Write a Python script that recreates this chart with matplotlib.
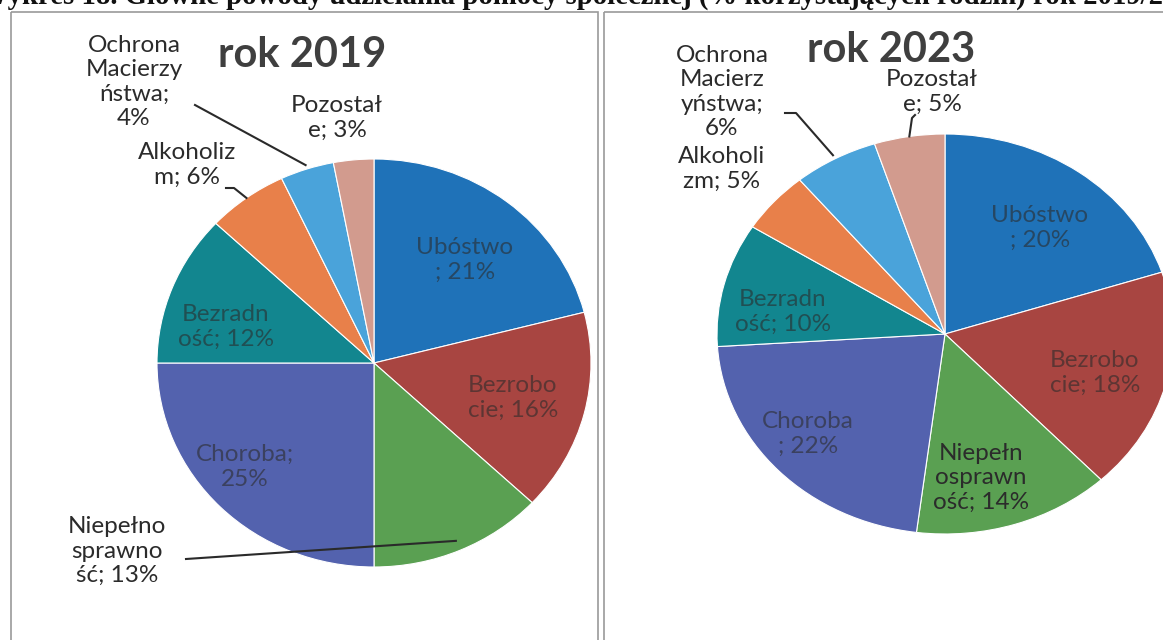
import numpy as np
import matplotlib
matplotlib.use("Agg")
import matplotlib.pyplot as plt
from matplotlib.patches import Rectangle

W, H = 1163, 640

# dane
kategorie = ["Ubóstwo", "Bezrobocie", "Niepełnosprawność", "Choroba",
             "Bezradność", "Alkoholizm", "Ochrona Macierzyństwa", "Pozostałe"]
rok_2019 = [21, 16, 13, 25, 12, 6, 4, 3]
rok_2023 = [20, 18, 14, 22, 10, 5, 6, 5]
kolory = ["#1F72B8", "#A84541", "#5AA052", "#5362AE",
          "#12868F", "#E8804A", "#4AA3DA", "#D29B8E"]

etykiety_2019 = ["Ubóstwo\n; 21%", "Bezrobo\ncie; 16%", "Niepełno\nsprawno\nść; 13%",
                 "Choroba;\n25%", "Bezradn\ność; 12%", "Alkoholiz\nm; 6%",
                 "Ochrona\nMacierzy\nństwa;\n4%", "Pozostał\ne; 3%"]
etykiety_2023 = ["Ubóstwo\n; 20%", "Bezrobo\ncie; 18%", "Niepełn\nosprawn\ność; 14%",
                 "Choroba\n; 22%", "Bezradn\ność; 10%", "Alkoholi\nzm; 5%",
                 "Ochrona\nMacierz\nyństwa;\n6%", "Pozostał\ne; 5%"]

plt.rcParams["font.family"] = ["Lato", "DejaVu Sans"]

fig = plt.figure(figsize=(W / 100, H / 100), dpi=100)
fig.patch.set_facecolor("white")

ov = fig.add_axes([0, 0, 1, 1], zorder=5)
ov.set_xlim(0, W)
ov.set_ylim(H, 0)
ov.axis("off")
ov.patch.set_alpha(0)


def pie_w_pikselach(cx, cy, rx, ry, wartosci):
    ax = fig.add_axes([(cx - rx) / W, 1 - (cy + ry) / H, 2 * rx / W, 2 * ry / H], zorder=2)
    wedges, _ = ax.pie(wartosci, colors=kolory, startangle=90, counterclock=False,
                       radius=1, wedgeprops=dict(edgecolor="white", linewidth=0.8))
    ax.set_aspect("auto")
    ax.set_xlim(-1, 1)
    ax.set_ylim(-1, 1)
    ax.axis("off")
    return wedges


def punkt(cx, cy, rx, ry, kat, r=1.0):
    t = np.deg2rad(kat)
    return cx + r * rx * np.cos(t), cy - r * ry * np.sin(t)


# ramki paneli
ov.add_patch(Rectangle((11, 12), 587, 650, fill=False, ec="#9a9a9a", lw=1.2))
ov.add_patch(Rectangle((604, 12), 580, 650, fill=False, ec="#9a9a9a", lw=1.2))

# podpis (ucięty u góry, jak w skanie)
podpis = "Wykres 18. Główne powody udzielania pomocy społecznej (% korzystających rodzin) rok 2019/2"
t = ov.text(-20, 4, podpis, fontsize=16, family=["Liberation Serif", "DejaVu Serif"],
            weight="bold", va="baseline", ha="left", color="#111111")
fig.canvas.draw()
szer = t.get_window_extent().width
t.set_fontsize(16 * 1185 / szer)
t.set_text(podpis + "023")

fs = 17.5
ls = 1.2

# rok 2019
cx1, cy1, rx1, ry1 = 374, 363, 217, 204
w1 = pie_w_pikselach(cx1, cy1, rx1, ry1, rok_2019)
ov.text(302, 55, "rok 2019", fontsize=30, weight="bold", color="#3f3f3f", ha="center", va="center")
poz_2019 = [(465, 260), (513, 398), (117, 551), (245, 467), (226, 327),
            (187, 165), (134, 82), (337, 118)]
for i, (lab, (x, y)) in enumerate(zip(etykiety_2019, poz_2019)):
    wew = i in (0, 1, 3, 4)
    ov.text(x, y, lab, fontsize=fs, ha="center", va="center", linespacing=ls,
            color="#2b2b2b", alpha=0.6 if wew else 1.0)

# linie odniesienia 2019
k = (w1[2].theta1 + w1[2].theta2) / 2
px, py = punkt(cx1, cy1, rx1, ry1, k, 0.95)
ov.plot([186, px], [559, py], color="#2a2a2a", lw=1.5)
k = (w1[5].theta1 + w1[5].theta2) / 2
px, py = punkt(cx1, cy1, rx1, ry1, k, 1.0)
ov.plot([226, 234, px], [188, 188, py], color="#2a2a2a", lw=1.5)
k = (w1[6].theta1 + w1[6].theta2) / 2
px, py = punkt(cx1, cy1, rx1, ry1, k, 1.02)
ov.plot([195, px], [105, py], color="#2a2a2a", lw=1.5)

# rok 2023
cx2, cy2, rx2, ry2 = 945, 334, 228, 200
w2 = pie_w_pikselach(cx2, cy2, rx2, ry2, rok_2023)
ov.text(891, 50, "rok 2023", fontsize=30, weight="bold", color="#3f3f3f", ha="center", va="center")
poz_2023 = [(1040, 228), (1095, 373), (981, 478), (808, 434), (783, 312),
            (722, 169), (722, 92), (932, 92)]
for i, (lab, (x, y)) in enumerate(zip(etykiety_2023, poz_2023)):
    wew = i in (0, 1, 3, 4)
    ov.text(x, y, lab, fontsize=fs, ha="center", va="center", linespacing=ls,
            color="#2b2b2b", alpha=0.6 if wew else 1.0)

k = (w2[6].theta1 + w2[6].theta2) / 2
px, py = punkt(cx2, cy2, rx2, ry2, k, 1.02)
ov.plot([785, 796, px], [113, 113, py], color="#2a2a2a", lw=1.5)
k = (w2[7].theta1 + w2[7].theta2) / 2
px, py = punkt(cx2, cy2, rx2, ry2, k, 1.0)
ov.plot([915, 912, px], [115, 118, py], color="#2a2a2a", lw=1.5)

fig.savefig("out.png", dpi=100, facecolor="white")
